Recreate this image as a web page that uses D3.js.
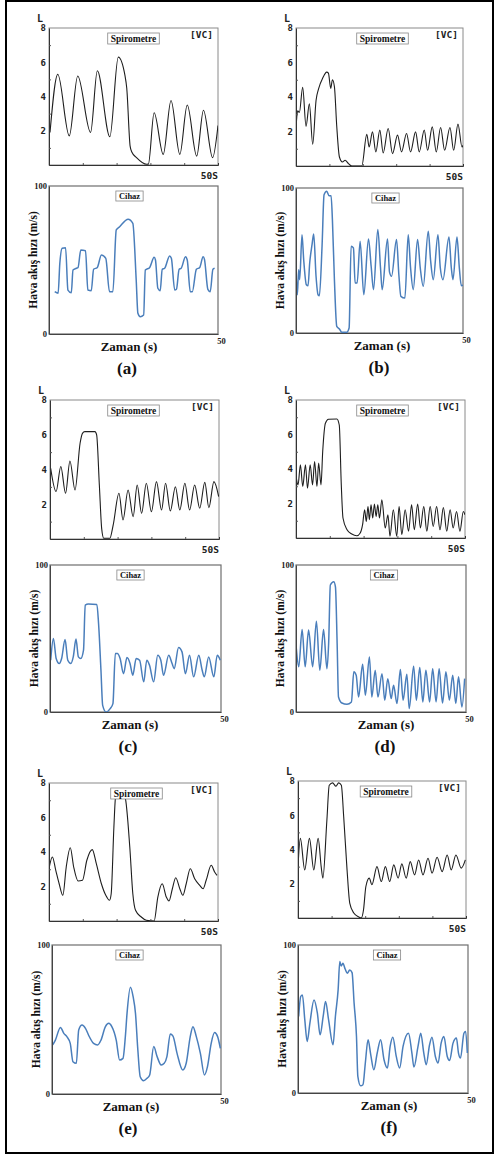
<!DOCTYPE html>
<html><head><meta charset="utf-8">
<script src="https://cdn.jsdelivr.net/npm/d3@7"></script>
<style>body{margin:0;background:#fff}svg{display:block}</style>
</head><body>
<svg id="chart" width="496" height="1156"></svg>
<script>
// ---------- DATA (time in s, spirometer in L, device in m/s) ----------
const xMax = 50;
const spiroTicks = [2, 4, 6, 8];
const spiroMinor = [1, 3, 5, 7];
const timeMinor = [10, 20, 30, 40];
const cihazTicks = [0, 100];
const spiroMax = 8;
const cihazMax = 100;
const panelLetters = ["(a)", "(b)", "(c)", "(d)", "(e)", "(f)"];

const spiroA = [[0.3,1.9],[2.6,5.3],[6.0,1.7],[8.5,5.2],[12.3,1.9],[14.3,5.5],[18.0,1.65],[20.5,6.3],[22.5,5.2],[23.0,4.5],[24.0,1.1],[24.5,0.76],[25.9,0.43],[28.9,0.04],[29.4,0.05],[31.1,3.05],[33.8,0.62],[36.1,3.77],[38.7,0.62],[40.9,3.5],[43.7,0.52],[45.7,3.2],[48.4,0.43],[50,2.31]];
const cihazA = [[1.7,28.6],[2.7,27.5],[3.2,47.7],[3.9,57.9],[4.9,58.3],[5.6,29.7],[6.6,27.9],[7.1,43.2],[8.1,44.4],[8.6,45.0],[9.4,56.7],[10.8,56.3],[11.5,29.7],[12.5,29.3],[13.2,43.7],[14.3,45.0],[15.5,53.4],[16.8,51.1],[17.9,28.6],[18.9,28.6],[19.9,70.3],[20.9,72.5],[23.4,77.5],[24.8,74.8],[25.8,36.5],[26.3,14.0],[27.0,11.7],[28.0,12.8],[28.5,43.2],[29.8,45.0],[31.1,51.8],[31.5,50.0],[32.2,30.9],[32.9,29.3],[33.5,43.7],[34.2,44.4],[35.7,52.7],[36.2,51.1],[37.2,29.7],[37.7,30.2],[38.5,43.7],[39.1,44.4],[40.4,52.2],[40.9,50.0],[41.8,28.6],[42.4,28.6],[43.6,43.7],[44.6,45.0],[45.6,52.2],[46.0,50.4],[47.0,30.2],[47.7,28.6],[48.5,43.7],[49.0,44.4]];

const spiroB = [[0.1,2.5],[0.5,3.2],[1.0,3.1],[2.0,4.56],[3.0,2.3],[4.0,3.6],[5.0,1.26],[6.0,3.8],[6.8,4.5],[8.0,5.1],[9.2,5.44],[9.7,5.38],[10.4,4.5],[10.9,5.0],[11.5,4.6],[12.2,2.3],[13.0,0.52],[13.9,0.23],[14.7,0.33],[15.7,0.14],[16.7,0.0],[19.7,0.0],[21.2,1.84],[21.9,1.1],[22.9,1.98],[23.9,0.82],[25.1,2.08],[26.1,0.76],[27.6,2.17],[28.9,0.72],[30.4,1.79],[31.6,0.82],[33.1,1.88],[34.3,0.82],[35.8,1.98],[36.9,0.82],[38.4,2.08],[39.4,0.91],[40.8,2.27],[42.0,0.82],[43.3,2.23],[44.5,0.91],[46.1,2.23],[47.2,0.91],[48.5,2.43],[49.7,1.1],[50,1.2]];
const cihazB = [[0.1,36.8],[0.4,26.4],[0.8,43.7],[1.1,36.8],[1.8,67.8],[2.3,50.6],[3.1,33.3],[3.6,32.6],[4.1,48.3],[4.8,60.9],[5.3,68.3],[6.0,39.1],[6.6,26.4],[7.0,25.7],[7.8,59.8],[8.4,95.4],[9.2,97.7],[9.9,94.7],[10.5,94.7],[10.9,78.2],[11.5,36.8],[12.2,4.6],[13.0,2.8],[13.7,0.5],[15.2,0.5],[15.9,3.4],[16.5,59.8],[17.2,58.6],[17.7,34.5],[18.3,34.5],[19.2,63.2],[20.3,26.4],[21.7,64.8],[22.5,46],[23.2,29.9],[24.5,71.3],[25.3,45],[25.8,29.9],[27.4,64.8],[28.0,42],[28.6,39.1],[30.1,64.4],[30.8,40],[31.4,25.3],[32.6,24.1],[33.6,67.8],[34.3,45],[35.1,29.9],[36.4,64.4],[37.2,45],[38.1,32.2],[39.6,70.1],[40.3,50],[41.1,36.8],[42.5,67.8],[43.2,45],[44.0,36.8],[45.8,66.2],[46.5,45],[47.0,36.8],[48.2,66.2],[48.9,45],[49.5,32.6],[50,33]];

const spiroC = [[0.2,4.07],[1.8,2.73],[3.2,4.17],[4.6,2.63],[5.9,4.49],[7.4,2.82],[8.9,5.51],[9.6,6.08],[10.3,6.18],[13.3,6.18],[13.8,5.99],[14.6,3.11],[15.3,0.58],[15.9,0.04],[17.7,0.04],[18.7,0.81],[20.4,2.63],[21.6,1.1],[23.1,2.82],[24.6,1.29],[25.8,3.11],[27.1,1.48],[28.5,3.21],[30.0,1.57],[31.5,3.3],[33.0,1.67],[34.2,3.21],[35.6,1.61],[37.1,3.01],[38.4,1.67],[39.9,3.21],[41.3,1.67],[42.8,3.11],[44.3,1.77],[45.8,3.26],[47.0,1.8],[48.5,3.3],[49.9,2.44]];
const cihazC = [[0.2,35.2],[1.0,50.0],[1.8,36.4],[2.7,33.0],[3.4,36.4],[4.4,49.3],[5.2,35.2],[6.1,33.0],[6.8,37.5],[7.6,49.6],[8.3,37.5],[9.0,36.4],[9.8,42.1],[10.3,72.7],[11.2,73.4],[13.7,73.2],[14.2,60.2],[14.9,28.4],[15.4,4.5],[16.4,0],[17.6,2.3],[18.4,5.7],[19.1,39.8],[19.7,39.8],[20.5,36.4],[21.5,26.1],[22.5,37.0],[23.4,33.0],[24.2,25.0],[25.2,36.4],[26.2,35.2],[27.4,20.5],[28.3,35.2],[29.1,31.8],[30.3,20.5],[31.5,38.6],[32.4,35.2],[33.2,25.0],[34.7,38.6],[35.7,33.0],[36.3,29.5],[37.6,43.9],[38.6,40.9],[39.6,26.1],[40.8,38.6],[42.0,23.9],[43.5,38.6],[44.5,28.4],[45.1,23.9],[46.4,37.5],[47.9,23.9],[48.9,38.6],[49.8,35.2]];

const spiroD = [[0.1,3.47],[0.6,3.08],[1.3,4.24],[2.0,2.99],[2.8,4.24],[3.4,2.89],[4.2,4.24],[4.9,3.08],[5.5,4.43],[6.2,2.99],[6.7,4.34],[7.4,3.08],[7.9,5.01],[8.7,6.65],[9.6,6.88],[12.1,6.9],[12.8,6.55],[13.4,3.08],[13.9,1.16],[15.1,0.48],[16.5,0.23],[18.0,0.13],[19.0,0.29],[19.7,0.77],[20.3,1.64],[20.8,0.96],[21.3,1.83],[21.7,1.06],[22.2,1.93],[22.7,1.16],[23.2,1.97],[23.7,1.25],[24.2,1.93],[24.7,1.16],[25.4,2.22],[26.4,0.58],[27.2,1.35],[27.8,0.1],[28.8,1.64],[29.8,0.1],[30.5,1.83],[31.3,0.19],[32.3,1.64],[33.3,0.39],[34.2,1.93],[35.0,0.48],[36.0,1.97],[36.8,0.58],[37.8,1.83],[38.7,0.39],[39.7,1.83],[40.6,0.67],[41.6,1.83],[42.6,0.48],[43.6,1.77],[44.6,0.39],[45.6,1.64],[46.5,0.58],[47.5,1.54],[48.5,0.39],[49.5,1.54],[50,1.35]];
const cihazD = [[0.1,43.2],[0.8,30.7],[1.8,56.1],[2.7,30.7],[3.7,55.7],[4.9,30.7],[6.0,61.8],[7.0,28.4],[8.1,56.1],[9.1,29.5],[9.6,46.6],[10.1,86.4],[11.1,88.6],[11.6,85.2],[12.1,46.6],[12.5,10.2],[13.5,6.1],[15.0,5.2],[16.3,6.8],[17.0,27.3],[17.7,25.0],[18.4,10.2],[19.6,32.5],[20.4,11.4],[21.6,37.5],[22.3,10.2],[23.3,28.4],[24.1,10.2],[25.3,26.1],[26.1,8.0],[27.0,22.7],[28.0,9.1],[28.7,18.2],[29.7,5.7],[30.7,28.9],[31.5,8.0],[32.6,25.7],[33.3,2.3],[34.6,31.1],[35.4,8.0],[36.4,30.2],[37.3,6.8],[38.2,28.4],[39.3,6.8],[40.2,29.5],[41.2,6.8],[42.1,29.5],[43.1,6.1],[44.1,27.3],[45.1,8.0],[46.1,25.0],[47.0,5.7],[47.8,23.9],[48.8,3.4],[49.6,22.7]];

const spiroE = [[0,3.03],[1.0,3.71],[2.0,2.94],[3.0,2.16],[4.1,1.49],[5.1,3.13],[6.3,4.25],[7.3,3.13],[8.6,2.32],[9.9,2.36],[11.2,3.52],[12.8,4.14],[14.0,3.32],[15.5,2.16],[16.8,1.49],[17.9,1.2],[18.4,1.58],[19.2,5.45],[19.7,7.19],[20.9,7.6],[22.5,7.19],[23.9,4.29],[24.8,1.58],[25.6,0.62],[27.3,0.23],[28.8,0.04],[31.1,0],[32.2,1.39],[33.5,2.16],[34.7,1.39],[35.5,1.16],[36.5,1.87],[37.5,2.51],[38.7,1.87],[39.6,1.49],[40.6,2.16],[41.8,3.03],[43.1,2.45],[44.6,2.07],[45.6,1.87],[46.5,2.36],[48.0,3.23],[49.0,2.84],[49.7,2.65]];
const cihazE = [[0.2,32.9],[1.0,36.2],[2.5,44.7],[3.5,40.7],[4.4,38.5],[5.4,34.0],[6.2,21.7],[7.2,20.6],[7.9,43.0],[8.9,46.3],[9.9,44.1],[10.8,39.6],[12.3,34.0],[13.5,32.9],[14.5,36.2],[15.8,45.2],[16.8,47.4],[17.7,45.2],[19.0,36.2],[20.0,22.8],[21.0,23.9],[21.7,38.5],[22.2,54.1],[23.2,71.6],[24.0,65.3],[24.7,54.1],[25.4,29.5],[26.1,11.6],[27.1,8.9],[28.1,10.5],[28.9,12.8],[30.1,31.8],[31.1,25.1],[32.3,19.5],[33.2,20.6],[34.0,25.1],[35.0,40.3],[35.8,38.9],[37.0,27.3],[38.7,16.1],[39.7,20.6],[40.9,38.5],[41.7,45.2],[42.7,38.5],[43.9,27.3],[45.1,12.8],[46.0,18.4],[47.1,34.0],[48.1,41.2],[49.0,38.5],[49.8,30.6]];

const spiroF = [[0,3.0],[0.7,4.65],[2.0,2.81],[3.4,4.65],[4.7,2.81],[6.0,4.65],[6.9,3.0],[7.4,2.33],[8.6,5.72],[9.3,7.75],[10.3,7.89],[11.3,7.69],[12.1,7.89],[12.9,7.75],[13.6,5.91],[14.6,2.81],[15.4,0.87],[16.6,0.29],[18.1,0.06],[18.8,0],[19.5,0.48],[20.2,1.84],[21.2,2.33],[22.0,1.94],[23.5,3.0],[24.8,2.13],[26.0,3.0],[27.3,2.13],[28.5,3.1],[29.8,2.33],[30.9,3.16],[32.2,2.33],[33.4,3.29],[34.7,2.52],[35.9,3.39],[37.2,2.52],[38.7,3.49],[39.9,2.62],[41.4,3.55],[42.9,2.71],[44.4,3.68],[45.6,2.81],[47.0,3.68],[48.6,2.91],[49.8,3.39]];
const cihazF = [[0.2,51.7],[0.8,65.2],[1.3,66.3],[2.0,49.4],[2.7,34.8],[3.5,47.2],[4.7,62.9],[5.7,53.9],[6.5,39.3],[7.4,51.7],[8.1,61.8],[9.0,49.4],[10.3,32.6],[11.0,51.7],[11.8,69.7],[12.3,88.8],[12.7,85.8],[13.2,87.6],[13.9,83.6],[14.5,80.9],[15.2,83.1],[15.9,81.3],[16.5,60.7],[17.2,38.2],[17.6,11.2],[18.4,4.9],[19.1,5.6],[19.8,20.2],[20.6,36.0],[21.4,25.8],[22.3,15.7],[23.3,27.0],[24.3,36.0],[25.3,22.5],[26.3,16.9],[27.1,31.5],[27.9,37.7],[28.9,24.7],[29.9,16.9],[30.9,31.5],[32.5,40.4],[33.5,27.0],[34.1,17.5],[35.3,31.5],[36.1,40.4],[37.0,27.0],[37.7,19.1],[38.7,32.6],[39.4,37.7],[40.4,24.7],[41.2,20.2],[42.1,33.7],[42.9,38.2],[43.9,24.7],[44.6,22.0],[45.6,33.7],[46.6,37.1],[47.2,27.0],[47.8,23.6],[48.8,40.4],[49.3,41.6],[49.8,27.0]];

// ---------- LAYOUT ----------
const layout = [
  {s:{x0:49,x1:218,y0:28,y1:165,dx:0,data:spiroA},  c:{x0:49,x1:218,y0:186,y1:334,dx:-4,data:cihazA}, zx:129, lx:127},
  {s:{x0:296,x1:463,y0:28,y1:166,dx:3,data:spiroB}, c:{x0:296,x1:463,y0:188,y1:333,dx:6,data:cihazB}, zx:382, lx:379},
  {s:{x0:50,x1:219,y0:400,y1:539,dx:-1,data:spiroC}, c:{x0:50,x1:221,y0:565,y1:712,dx:-5,data:cihazC}, zx:130, lx:128},
  {s:{x0:296,x1:465,y0:400,y1:538,dx:2,data:spiroD}, c:{x0:296,x1:466,y0:565,y1:712,dx:3,data:cihazD}, zx:386, lx:385},
  {s:{x0:49,x1:218,y0:783,y1:921,dx:3,data:spiroE}, c:{x0:52,x1:221,y0:945,y1:1094,dx:-7,data:cihazE}, zx:131, lx:128},
  {s:{x0:298,x1:466,y0:781,y1:918,dx:4,data:spiroF}, c:{x0:298,x1:468,y0:945,y1:1093,dx:4,data:cihazF}, zx:389, lx:389}
];

const SERIF = "'Liberation Serif','Times New Roman',serif";
const MONO = "'DejaVu Sans Mono','Liberation Mono',monospace";
const svg = d3.select('#chart');
svg.append('rect').attr('width',496).attr('height',1156).attr('fill','#fff');
const defs = svg.append('defs');
let clipN = 0;

function labelBox(g, cx, top, text, size, padX, h) {
  const t = g.append('text').attr('x',cx).attr('y',top + h/2).attr('text-anchor','middle')
    .attr('dominant-baseline','central').attr('font-family',SERIF).attr('font-weight','bold')
    .attr('font-size',size).attr('fill','#111').text(text);
  const w = t.node().getComputedTextLength() + padX*2;
  g.insert('rect', () => t.node()).attr('x',cx - w/2).attr('y',top).attr('width',w).attr('height',h)
    .attr('fill','#fff').attr('stroke','#888').attr('stroke-width',0.8);
}

function drawSpiro(p) {
  const g = svg.append('g');
  const x = d3.scaleLinear().domain([0,xMax]).range([p.x0,p.x1]);
  const y = d3.scaleLinear().domain([0,spiroMax]).range([p.y1,p.y0]);
  const id = 'clip' + (clipN++);
  defs.append('clipPath').attr('id',id).append('rect')
    .attr('x',p.x0).attr('y',p.y0).attr('width',p.x1-p.x0).attr('height',p.y1-p.y0);
  g.append('rect').attr('x',p.x0).attr('y',p.y0).attr('width',p.x1-p.x0).attr('height',p.y1-p.y0)
    .attr('fill','none').attr('stroke','#8a8a8a').attr('stroke-width',1);
  g.append('path').datum(p.data).attr('clip-path',`url(#${id})`).attr('fill','none')
    .attr('stroke','#1e1e1e').attr('stroke-width',1.1)
    .attr('d', d3.line().x(d=>x(d[0])).y(d=>y(d[1])).curve(d3.curveMonotoneX));
  const ax = g.append('g').attr('transform',`translate(${p.x0},0)`)
    .call(d3.axisLeft(y).tickValues(spiroTicks).tickSize(0).tickPadding(3).tickFormat(d3.format('d')));
  ax.select('.domain').attr('stroke','#333');
  ax.selectAll('text').attr('font-family',MONO).attr('font-weight','bold').attr('font-size',9).attr('fill','#222');
  const mn = g.append('g').attr('transform',`translate(${p.x0},0)`)
    .call(d3.axisRight(y).tickValues(spiroMinor).tickSize(2).tickFormat(''));
  mn.select('.domain').remove(); mn.selectAll('line').attr('stroke','#555');
  const bx = g.append('g').attr('transform',`translate(0,${p.y1})`)
    .call(d3.axisTop(x).tickValues(timeMinor).tickSize(2).tickFormat(''));
  bx.select('.domain').attr('stroke','#333'); bx.selectAll('line').attr('stroke','#555');
  g.append('text').attr('x',p.x0-12).attr('y',p.y0-6).attr('font-family',MONO).attr('font-weight','bold')
    .attr('font-size',10).attr('fill','#222').text('L');
  g.append('text').attr('x',p.x1-5).attr('y',p.y0+10).attr('text-anchor','end').attr('font-family',MONO)
    .attr('font-weight','bold').attr('font-size',9.5).attr('fill','#222').text('[VC]');
  g.append('text').attr('x',p.x1).attr('y',p.y1+14).attr('text-anchor','end').attr('font-family',MONO)
    .attr('font-weight','bold').attr('font-size',9.5).attr('fill','#222').text(xMax + 'S');
  labelBox(g, (p.x0+p.x1)/2 + p.dx, p.y0+5, 'Spirometre', 9.5, 3, 11);
}

function drawCihaz(p, zx, lx, letter) {
  const g = svg.append('g');
  const x = d3.scaleLinear().domain([0,xMax]).range([p.x0,p.x1]);
  const y = d3.scaleLinear().domain([0,cihazMax]).range([p.y1,p.y0]);
  const id = 'clip' + (clipN++);
  defs.append('clipPath').attr('id',id).append('rect')
    .attr('x',p.x0).attr('y',p.y0-1).attr('width',p.x1-p.x0).attr('height',p.y1-p.y0+2);
  g.append('rect').attr('x',p.x0).attr('y',p.y0).attr('width',p.x1-p.x0).attr('height',p.y1-p.y0)
    .attr('fill','none').attr('stroke','#6e6e6e').attr('stroke-width',1.2);
  g.append('path').datum(p.data).attr('clip-path',`url(#${id})`).attr('fill','none')
    .attr('stroke','#4a7ebb').attr('stroke-width',1.5)
    .attr('d', d3.line().x(d=>x(d[0])).y(d=>y(d[1])).curve(d3.curveMonotoneX));
  const ax = g.append('g').attr('transform',`translate(${p.x0},0)`)
    .call(d3.axisLeft(y).tickValues(cihazTicks).tickSize(0).tickPadding(2));
  ax.select('.domain').attr('stroke','#444');
  ax.selectAll('text').attr('font-family',SERIF).attr('font-weight','bold').attr('font-size',8.5).attr('fill','#222');
  const bx = g.append('g').attr('transform',`translate(0,${p.y1})`)
    .call(d3.axisBottom(x).tickValues([xMax]).tickSize(0).tickPadding(4));
  bx.select('.domain').attr('stroke','#444');
  bx.selectAll('text').attr('font-family',SERIF).attr('font-weight','bold').attr('font-size',8.5).attr('fill','#222')
    .attr('dx',3);
  labelBox(g, (p.x0+p.x1)/2 + p.dx, p.y0+5, 'Cihaz', 8.5, 3, 10);
  const cy = (p.y0+p.y1)/2;
  g.append('text').attr('transform',`translate(${p.x0-16},${cy}) rotate(-90)`).attr('text-anchor','middle')
    .attr('dominant-baseline','central').attr('font-family',SERIF).attr('font-weight','bold')
    .attr('font-size',11.5).attr('fill','#111').text('Hava akış hızı (m/s)');
  g.append('text').attr('x',zx).attr('y',p.y1+17).attr('text-anchor','middle').attr('font-family',SERIF)
    .attr('font-weight','bold').attr('font-size',13).attr('fill','#111').text('Zaman (s)');
  g.append('text').attr('x',lx).attr('y',p.y1+40).attr('text-anchor','middle').attr('font-family',SERIF)
    .attr('font-weight','bold').attr('font-size',17).attr('fill','#111').text(letter);
}

layout.forEach((L,i) => { drawSpiro(L.s); drawCihaz(L.c, L.zx, L.lx, panelLetters[i]); });

svg.append('rect').attr('x',6).attr('y',1).attr('width',487).attr('height',1152)
  .attr('fill','none').attr('stroke','#000').attr('stroke-width',2);
</script>
</body></html>
